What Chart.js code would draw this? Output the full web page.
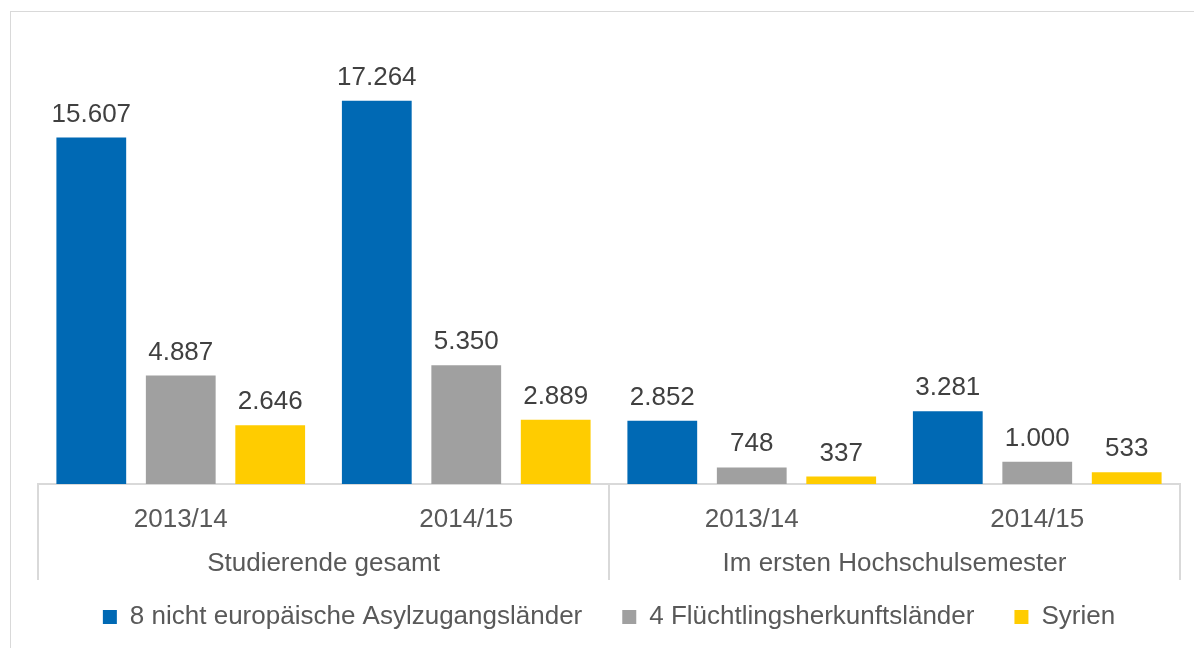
<!DOCTYPE html>
<html>
<head>
<meta charset="utf-8">
<title>Studierende aus Asylzugangsländern</title>
<script src="https://cdn.jsdelivr.net/npm/chart.js"></script>
<style>
  body { margin: 0; background: #fff; }
  #wrap { position: relative; width: 1194px; height: 648px; overflow: hidden; }
  #frame { position: absolute; left: 10px; top: 11px; width: 1300px; height: 700px; border: 1px solid #d9d9d9; }
  #chart { position: absolute; left: 0; top: 0; }
</style>
</head>
<body>
<div id="wrap">
  <div id="frame"></div>
  <canvas id="chart" width="1194" height="648"></canvas>
</div>
<script>
const semesters = ['2013/14', '2014/15', '2013/14', '2014/15'];
const groupNames = ['Studierende gesamt', 'Im ersten Hochschulsemester'];
const seriesNames = ['8 nicht europäische Asylzugangsländer', '4 Flüchtlingsherkunftsländer', 'Syrien'];
const asylCountries = [15607, 17264, 2852, 3281];
const refugeeCountries = [4887, 5350, 748, 1000];
const syria = [2646, 2889, 337, 533];
const seriesColors = ['#0069B4', '#A0A0A0', '#FFCC00'];

const FONT = '"Liberation Sans", Arial, sans-serif';

// 15607 -> "15.607"
const fmt = (v) => String(v).replace(/\B(?=(\d{3})+(?!\d))/g, '.');

const extras = {
  id: 'extras',
  afterDatasetsDraw(chart) {
    const ctx = chart.ctx;
    ctx.save();
    ctx.font = '26px ' + FONT;
    ctx.fillStyle = '#404040';
    ctx.textAlign = 'center';
    ctx.textBaseline = 'alphabetic';
    chart.data.datasets.forEach((ds, i) => {
      chart.getDatasetMeta(i).data.forEach((bar, j) => {
        ctx.fillText(fmt(ds.data[j]), bar.x, bar.y - 16);
      });
    });
    ctx.restore();
  },
  afterDraw(chart) {
    // second label row: group separators and group names
    const x = chart.scales.x;
    const ctx = chart.ctx;
    const top = x.top;
    ctx.save();
    ctx.strokeStyle = '#d9d9d9';
    ctx.lineWidth = 2;
    [-0.5, 1.5, 3.5].forEach((v) => {
      const px = Math.round(x.getPixelForValue(v));
      ctx.beginPath();
      ctx.moveTo(px, top);
      ctx.lineTo(px, top + 96);
      ctx.stroke();
    });
    ctx.font = '26px ' + FONT;
    ctx.fillStyle = '#595959';
    ctx.textAlign = 'center';
    ctx.textBaseline = 'middle';
    groupNames.forEach((name, g) => {
      ctx.fillText(name, x.getPixelForValue(g * 2 + 0.5), top + 80);
    });
    ctx.restore();
  }
};

new Chart(document.getElementById('chart'), {
  type: 'bar',
  data: {
    labels: semesters,
    datasets: [
      { label: seriesNames[0], data: asylCountries, backgroundColor: seriesColors[0] },
      { label: seriesNames[1], data: refugeeCountries, backgroundColor: seriesColors[1] },
      { label: seriesNames[2], data: syria, backgroundColor: seriesColors[2] }
    ]
  },
  options: {
    responsive: false,
    animation: false,
    categoryPercentage: 0.94,
    barPercentage: 0.78,
    layout: { padding: { top: 40, left: 38, right: 14, bottom: 8 } },
    plugins: {
      tooltip: { enabled: false },
      legend: {
        position: 'bottom',
        labels: {
          font: { size: 26, family: FONT },
          color: '#595959',
          boxWidth: 14,
          boxHeight: 14,
          padding: 40
        }
      }
    },
    scales: {
      x: {
        grid: { display: false, drawTicks: false },
        border: { display: true, color: '#d9d9d9', width: 2 },
        ticks: { font: { size: 26, family: FONT }, color: '#595959', padding: 20, maxRotation: 0 },
        afterFit: (scale) => { scale.height = 80; }
      },
      y: {
        display: false,
        min: 0,
        max: 20000
      }
    }
  },
  plugins: [extras]
});
</script>
</body>
</html>
